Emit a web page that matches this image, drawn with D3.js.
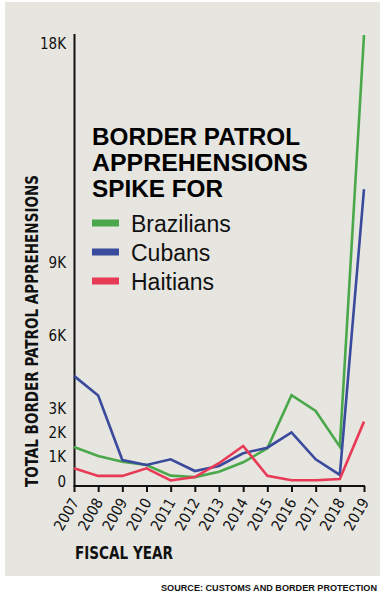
<!DOCTYPE html>
<html>
<head>
<meta charset="utf-8">
<script src="https://cdn.jsdelivr.net/npm/d3@7"></script>
<style>
  html, body { margin: 0; padding: 0; background: #ffffff; }
  svg { display: block; }
</style>
</head>
<body>
<div id="chart"></div>
<script>
// ---- data ----
const years = [2007, 2008, 2009, 2010, 2011, 2012, 2013, 2014, 2015, 2016, 2017, 2018, 2019];
const brazilians = [1400, 1030, 790, 660, 220, 160, 380, 770, 1340, 3530, 2880, 1410, 18330];
const cubans     = [4320, 3510, 860, 660, 890, 410, 620, 1140, 1370, 2000, 890, 250, 11990];
const haitians   = [520, 210, 210, 520, 20, 160, 730, 1440, 210, 30, 30, 80, 2440];
const seriesNames = ["Brazilians", "Cubans", "Haitians"];
const seriesColors = ["#4aa84b", "#3a4a9c", "#e83a55"];
const yTickValues = [0, 1000, 2000, 3000, 6000, 9000, 18000];
const yTickLabels = ["0", "1K", "2K", "3K", "6K", "9K", "18K"];
const titleLines = ["BORDER PATROL", "APPREHENSIONS", "SPIKE FOR"];

const W = 388, H = 598;
const svg = d3.select("#chart").append("svg").attr("width", W).attr("height", H);

// panel
svg.append("rect").attr("x", 5).attr("y", 2).attr("width", 375).attr("height", 574).attr("fill", "#e6e5e0");

const x = d3.scalePoint().domain(years).range([74, 364]);
const y = d3.scaleLinear().domain([0, 18000]).range([481, 43]);
const axisY = 486;

const condensed = "'Liberation Sans Narrow', 'DejaVu Sans Condensed', 'Roboto Condensed', sans-serif";

// y axis line
svg.append("line").attr("x1", 74.5).attr("x2", 74.5).attr("y1", 34).attr("y2", axisY)
  .attr("stroke", "#111").attr("stroke-width", 2);

// y tick labels
const yAxis = d3.axisLeft(y).tickValues(yTickValues).tickSize(0).tickPadding(0)
  .tickFormat((d, i) => yTickLabels[i]);
const gy = svg.append("g").attr("transform", "translate(66,0)").call(yAxis);
gy.select(".domain").remove();
gy.selectAll("text").attr("font-family", condensed).attr("font-size", 15).attr("fill", "#111").attr("dy", "0.35em");

// x axis
const xAxis = d3.axisBottom(x).tickSize(6).tickSizeOuter(0);
const gx = svg.append("g").attr("transform", `translate(0,${axisY})`).call(xAxis);
gx.select(".domain").attr("stroke", "#111").attr("stroke-width", 2).attr("d", "M73.5,0H365");
gx.selectAll(".tick line").attr("stroke", "#111").attr("stroke-width", 2);
gx.selectAll(".tick text")
  .attr("font-family", condensed).attr("font-size", 15).attr("fill", "#111")
  .attr("text-anchor", "end").attr("y", 0).attr("dy", 0)
  .attr("transform", "translate(5,16) rotate(-60)");

// lines
const allSeries = [brazilians, cubans, haitians];
const line = d3.line().x((d, i) => x(years[i])).y(d => y(d));
allSeries.forEach((s, k) => {
  svg.append("path").datum(s).attr("d", line)
    .attr("fill", "none").attr("stroke", seriesColors[k]).attr("stroke-width", 2.6)
    .attr("stroke-linejoin", "miter");
});

// title
const titleWidths = [208, 216, 131];
titleLines.forEach((t, i) => {
  svg.append("text").attr("x", 92).attr("y", 145 + i * 26)
    .attr("font-family", "'Liberation Sans', Arial, sans-serif").attr("font-weight", 700)
    .attr("font-size", 24.5).attr("fill", "#000")
    .attr("textLength", titleWidths[i]).attr("lengthAdjust", "spacingAndGlyphs")
    .text(t);
});

// legend
seriesNames.forEach((n, i) => {
  const cy = 223 + i * 29;
  svg.append("rect").attr("x", 92).attr("y", cy - 3.5).attr("width", 27).attr("height", 7).attr("fill", seriesColors[i]);
  svg.append("text").attr("x", 131).attr("y", cy + 8.5)
    .attr("font-family", "'Liberation Sans', Arial, sans-serif").attr("font-size", 23).attr("fill", "#111")
    .text(n);
});

// axis titles
svg.append("text").attr("transform", "translate(38,331) rotate(-90)")
  .attr("text-anchor", "middle").attr("font-family", condensed).attr("font-weight", 700)
  .attr("font-size", 17.5).attr("fill", "#111")
  .attr("textLength", 312).attr("lengthAdjust", "spacingAndGlyphs")
  .text("TOTAL BORDER PATROL APPREHENSIONS");

svg.append("text").attr("x", 75).attr("y", 559)
  .attr("font-family", condensed).attr("font-weight", 700).attr("font-size", 18).attr("fill", "#111")
  .attr("textLength", 98).attr("lengthAdjust", "spacingAndGlyphs")
  .text("FISCAL YEAR");

// source
svg.append("text").attr("x", 161).attr("y", 591)
  .attr("font-family", "'Liberation Sans', Arial, sans-serif").attr("font-weight", 700).attr("font-size", 9).attr("fill", "#111")
  .attr("textLength", 216).attr("lengthAdjust", "spacingAndGlyphs")
  .text("SOURCE: CUSTOMS AND BORDER PROTECTION");
</script>
</body>
</html>
